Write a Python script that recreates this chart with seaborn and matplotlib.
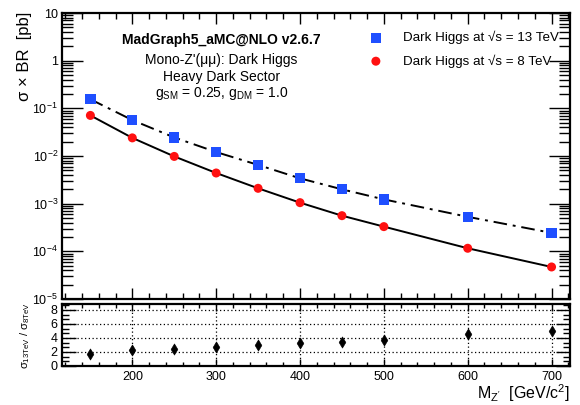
import matplotlib
matplotlib.use("Agg")
import matplotlib.pyplot as plt
import matplotlib.ticker as mticker
import matplotlib.transforms as mtransforms
import numpy as np
import pandas as pd
import seaborn as sns

# ---- data ----
mass = [150, 200, 250, 300, 350, 400, 450, 500, 600, 700]
xsec_13tev = [0.155, 0.0567, 0.0245, 0.0121, 0.0065, 0.0034, 0.0020, 0.00123, 0.00053, 0.000244]
xsec_8tev = [0.071, 0.0240, 0.0098, 0.0044, 0.0021, 0.00105, 0.00056, 0.00033, 0.000116, 0.000047]
ratio = [1.67, 2.29, 2.48, 2.71, 3.0, 3.24, 3.47, 3.71, 4.52, 5.0]
ratio_err = [0.2, 0.2, 0.2, 0.2, 0.2, 0.2, 0.2, 0.2, 0.2, 0.2]
label_13 = "Dark Higgs at √s = 13 TeV"
label_8 = "Dark Higgs at √s = 8 TeV"
ytick_vals = [1e-5, 1e-4, 1e-3, 1e-2, 1e-1, 1, 10]
ytick_labels = [r"$10^{-5}$", r"$10^{-4}$", r"$10^{-3}$", r"$10^{-2}$", r"$10^{-1}$", "1", "10"]

sns.set_theme(style="ticks")
plt.rcParams["font.family"] = ["Liberation Sans", "DejaVu Sans"]
plt.rcParams["mathtext.fontset"] = "custom"
plt.rcParams["mathtext.rm"] = "Liberation Sans"
plt.rcParams["mathtext.it"] = "Liberation Sans:italic"
plt.rcParams["mathtext.bf"] = "Liberation Sans:bold"
plt.rcParams["mathtext.default"] = "regular"
plt.rcParams["axes.edgecolor"] = "black"
plt.rcParams["xtick.color"] = "black"
plt.rcParams["ytick.color"] = "black"
plt.rcParams["text.color"] = "black"

df = pd.DataFrame({"mass": mass, "x13": xsec_13tev, "x8": xsec_8tev,
                   "ratio": ratio, "err": ratio_err})

BLUE = "#1f4fff"
RED = "#ff1010"

fig = plt.figure(figsize=(5.8, 4.05), dpi=100)
ax = fig.add_axes([62.3 / 580, 1 - 299 / 405, (570 - 62.3) / 580, (299 - 13) / 405])
axr = fig.add_axes([62.3 / 580, 1 - 366 / 405, (570 - 62.3) / 580, (366 - 303.5) / 405])

xlim = (116.5, 722)

# main panel
sns.lineplot(data=df, x="mass", y="x13", ax=ax, color="black", lw=1.4,
             linestyle=(0, (7, 3, 1.5, 3)), legend=False)
sns.lineplot(data=df, x="mass", y="x8", ax=ax, color="black", lw=1.4, legend=False)
sns.scatterplot(data=df, x="mass", y="x13", ax=ax, marker="s", s=55, color=BLUE,
                edgecolor="none", label=label_13, zorder=5)
sns.scatterplot(data=df, x="mass", y="x8", ax=ax, marker="o", s=42, color=RED,
                edgecolor="none", label=label_8, zorder=5)

ax.set_yscale("log")
ax.set_xlim(*xlim)
ax.set_ylim(1e-5, 10)
ax.set_yticks(ytick_vals)
ax.set_yticklabels(ytick_labels, fontsize=9)
# nudge the bottom label up a little so it clears the ratio panel labels
lbl = ax.get_yticklabels()[0]
lbl.set_transform(lbl.get_transform() + mtransforms.ScaledTranslation(0, 2 / 100, fig.dpi_scale_trans))
ax.yaxis.set_minor_locator(mticker.LogLocator(base=10, subs=np.arange(2, 10)))
ax.yaxis.set_minor_formatter(mticker.NullFormatter())
ax.xaxis.set_major_locator(mticker.MultipleLocator(100))
ax.xaxis.set_minor_locator(mticker.MultipleLocator(20))
ax.tick_params(axis="x", which="both", direction="in", top=True, bottom=True,
               labelbottom=False)
ax.tick_params(axis="x", which="major", length=8, width=1)
ax.tick_params(axis="x", which="minor", length=4, width=1)
ax.tick_params(axis="y", which="both", direction="in", left=True, right=True, pad=3)
ax.tick_params(axis="y", which="major", length=15, width=1)
ax.tick_params(axis="y", which="minor", length=8, width=1)
ax.set_xlabel("")
ax.set_ylabel("")
for s in ax.spines.values():
    s.set_linewidth(1.6)

leg = ax.legend(loc="upper left", bbox_to_anchor=(0.594, 0.956), frameon=False,
                fontsize=9.6, handletextpad=1.55, labelspacing=0.75,
                borderaxespad=0, handlelength=1.0)

ax.text(0.313, 0.905, "MadGraph5_aMC@NLO v2.6.7", transform=ax.transAxes,
        ha="center", va="center", fontsize=10, fontweight="bold")
ax.text(0.313, 0.835, "Mono-Z'(μμ): Dark Higgs", transform=ax.transAxes,
        ha="center", va="center", fontsize=10)
ax.text(0.313, 0.775, "Heavy Dark Sector", transform=ax.transAxes,
        ha="center", va="center", fontsize=10)
ax.text(0.313, 0.718, r"g$_{\mathrm{SM}}$ = 0.25, g$_{\mathrm{DM}}$ = 1.0",
        transform=ax.transAxes, ha="center", va="center", fontsize=10)

fig.text(25 / 580, 1 - 12 / 405, r"σ × BR  [pb]", rotation=90, ha="center",
         va="top", fontsize=12)

# ratio panel
axr.errorbar(df["mass"], df["ratio"], yerr=df["err"], fmt="none", ecolor="black",
             elinewidth=1.2, capsize=0, zorder=4)
sns.scatterplot(data=df, x="mass", y="ratio", ax=axr, marker="d", s=32,
                color="black", edgecolor="black", legend=False, zorder=5)
axr.set_xlim(*xlim)
axr.set_ylim(0, 8.9)
axr.xaxis.set_major_locator(mticker.MultipleLocator(100))
axr.xaxis.set_minor_locator(mticker.MultipleLocator(20))
axr.yaxis.set_major_locator(mticker.MultipleLocator(2))
axr.yaxis.set_minor_locator(mticker.MultipleLocator(2 / 3))
axr.yaxis.set_major_formatter(mticker.FormatStrFormatter("%d"))
axr.tick_params(axis="both", which="both", direction="in", top=True, right=True,
                labelsize=9)
axr.tick_params(axis="x", which="major", length=5, width=1)
axr.tick_params(axis="x", which="minor", length=3, width=1)
axr.tick_params(axis="y", which="major", length=10, width=1)
axr.tick_params(axis="y", which="minor", length=5, width=1)
axr.grid(True, which="major", linestyle=(0, (1, 2)), color="black", linewidth=0.9)
axr.set_xlabel("")
axr.set_ylabel("")
for s in axr.spines.values():
    s.set_linewidth(1.6)

fig.text(25 / 580, 1 - 335 / 405, r"σ$_{13\mathrm{TeV}}$ / σ$_{8\mathrm{TeV}}$",
         rotation=90, ha="center", va="center", fontsize=8)
fig.text(570 / 580, 1 - 399 / 405, r"M$_{Z'}$  [GeV/c$^{2}$]", ha="right",
         va="baseline", fontsize=11.5)

fig.savefig("out.png", dpi=100)
